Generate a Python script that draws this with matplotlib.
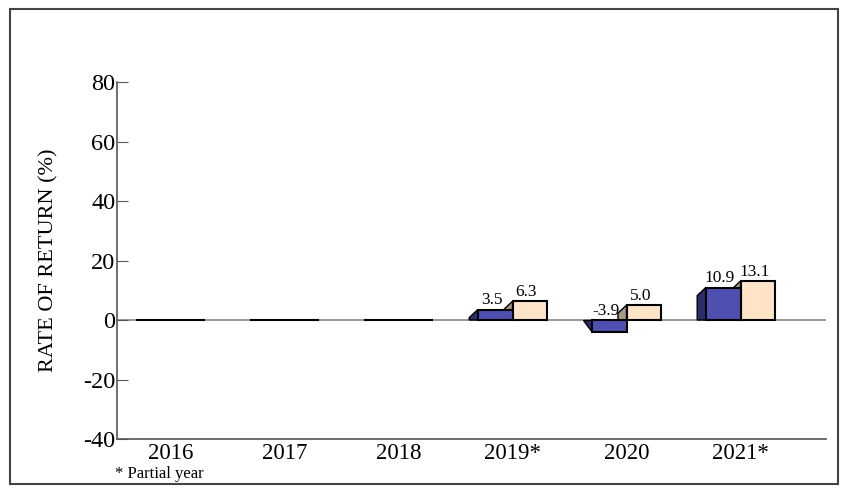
import matplotlib
matplotlib.use('Agg')
import matplotlib.pyplot as plt
import numpy as np
from matplotlib.patches import Polygon, Rectangle

plt.rcParams['font.family'] = ['Liberation Serif', 'DejaVu Serif']
plt.rcParams['axes.unicode_minus'] = False

# data
years = ['2016', '2017', '2018', '2019*', '2020', '2021*']
fund = [0, 0, 0, 3.5, -3.9, 10.9]
bench = [0, 0, 0, 6.3, 5.0, 13.1]
show_label = [False, False, False, True, True, True]

blue_front = '#4f4fb0'
blue_side = '#2c2c6a'
tan_front = '#ffe4c8'
tan_side = '#a89a85'

W, H = 848, 495
fig = plt.figure(figsize=(W / 100, H / 100), dpi=100)
ax = fig.add_axes([117 / W, 1 - 439 / H, (826 - 117) / W, (439 - 82) / H])

# outer frame
fig.patches.append(Rectangle((10 / W, 1 - 484 / H), 828 / W, 475 / H,
                             transform=fig.transFigure, fill=False,
                             edgecolor='#444444', linewidth=1.5))

x = np.arange(len(years))
bw = 0.305
dx = 0.075   # depth offset (x, data units)
dy = 2.7     # depth offset (y, data units)

ax.axhline(0, color='#888888', linewidth=1.2, zorder=1)

for i in range(len(years)):
    for j, (v, fc, sc) in enumerate([(bench[i], tan_front, tan_side),
                                      (fund[i], blue_front, blue_side)]):
        x0 = x[i] - bw if j == 1 else x[i]
        z = 2 + 2 * j
        if v > 0:
            side = [(x0 - dx, 0), (x0 - dx, max(v - dy, 0)), (x0, v), (x0, 0)]
        elif v < 0:
            side = [(x0 - dx, 0), (x0, 0), (x0, v)]
        else:
            side = None
        if side is not None:
            ax.add_patch(Polygon(side, closed=True, facecolor=sc,
                                 edgecolor='black', linewidth=1, zorder=z))
        ax.bar(x0, v, width=bw, align='edge', color=fc,
               edgecolor='black', linewidth=1.5, zorder=z + 1)
        if show_label[i]:
            ty = v if v > 0 else 0
            ax.text(x0 + bw / 2 - 0.03, ty + 0.4, f'{v:.1f}', ha='center',
                    va='bottom', fontsize=12.5, zorder=10)

ax.set_xlim(-0.47, 5.75)
ax.set_ylim(-40, 80)
ax.set_yticks([-40, -20, 0, 20, 40, 60, 80])
ax.set_xticks(x)
ax.set_xticklabels(years, fontsize=16.5)
ax.tick_params(axis='x', length=0, pad=3)
ax.tick_params(axis='y', direction='in', length=8, color='#555555',
               labelsize=17.5, pad=1)
for s in ['top', 'right']:
    ax.spines[s].set_visible(False)
for s in ['left', 'bottom']:
    ax.spines[s].set_color('#555555')
    ax.spines[s].set_linewidth(1.2)
ax.set_ylabel('RATE OF RETURN (%)', fontsize=16, labelpad=18)

fig.text(115 / W, 1 - 474 / H, '* Partial year', fontsize=12, va='center')

fig.savefig('out.png', dpi=100)
